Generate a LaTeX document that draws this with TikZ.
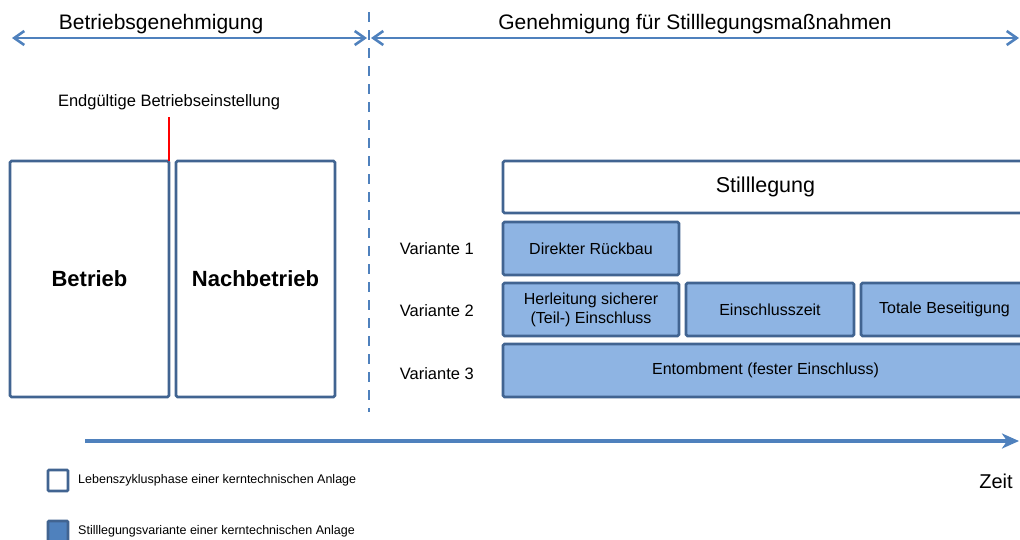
\documentclass[tikz,border=0pt]{standalone}
\usepackage{fontspec}
\setmainfont{Liberation Sans}
\usetikzlibrary{arrows.meta,positioning}
\definecolor{boxblue}{HTML}{416491}
\definecolor{lineblue}{HTML}{4F81BD}
\definecolor{varfill}{HTML}{8EB4E3}
\tikzstyle{phase} = [rectangle, draw=boxblue, line width=2.6pt, rounded corners=1.5pt, outer sep=0pt, inner sep=0pt, minimum width=159pt, minimum height=236pt, font=\fontsize{22}{26}\selectfont\bfseries]
\tikzstyle{decom} = [rectangle, draw=boxblue, line width=2.6pt, rounded corners=1.5pt, outer sep=0pt, inner sep=0pt, minimum width=525pt, minimum height=52pt, font=\fontsize{21.5}{26}\selectfont]
\tikzstyle{variant} = [rectangle, draw=boxblue, fill=varfill, line width=2.6pt, rounded corners=1.5pt, outer sep=0pt, inner sep=0pt, minimum height=53pt, align=center, font=\fontsize{16}{19}\selectfont]
\tikzstyle{varlabel} = [inner sep=0pt, font=\fontsize{16.5}{20}\selectfont]
\tikzstyle{title} = [inner sep=0pt, font=\fontsize{21}{25}\selectfont]
\tikzstyle{legend} = [rectangle, draw=boxblue, line width=2.6pt, rounded corners=1pt, outer sep=0pt, inner sep=0pt, minimum width=20pt, minimum height=21pt]
\tikzstyle{legendtext} = [inner sep=0pt, font=\fontsize{12.5}{15}\selectfont]
\tikzstyle{permit} = [draw=lineblue, line width=2.6pt, {Straight Barb[length=10pt,width=14pt]}-{Straight Barb[length=10pt,width=14pt]}]
\tikzstyle{timeline} = [draw=lineblue, line width=3.6pt, -{Stealth[length=17pt,width=15pt,inset=5pt]}]

\begin{document}
\begin{tikzpicture}[x=1pt,y=-1pt,node distance=7pt]
    \useasboundingbox (0,0) rectangle (1020,539);
    \node [phase] (betrieb) at (89.5,279) {Betrieb};
    \node [phase, right=7pt of betrieb] (nachbetrieb) {Nachbetrieb};
    \coordinate (stop) at (169,117);
    \node [varlabel, above=7pt of stop] (einstellung) {Endgültige Betriebseinstellung};

    \node [decom] (still) at (765.5,187) {Stilllegung};
    \node [variant, minimum width=176pt, below right=9pt and 0pt of still.south west] (direkt) {Direkter Rückbau};
    \node [variant, minimum width=176pt, below=8pt of direkt] (herleitung) {Herleitung sicherer\\(Teil-) Einschluss};
    \node [variant, minimum width=168pt, right=7pt of herleitung] (einschluss) {Einschlusszeit};
    \node [variant, minimum width=167pt, right=7pt of einschluss] (totale) {Totale Beseitigung};
    \node [variant, minimum width=525pt, below right=8pt and 0pt of herleitung.south west] (entomb) {Entombment (fester Einschluss)};
    \node [varlabel, left=29pt of direkt] (var1) {Variante 1};
    \node [varlabel, left=29pt of herleitung, yshift=-1pt] (var2) {Variante 2};
    \node [varlabel, left=29pt of entomb.west, yshift=-3pt] (var3) {Variante 3};

    \coordinate (divtop) at (369,12);
    \coordinate (divbot) at (369,412);
    \coordinate (pl) at (12,38);
    \coordinate (pm) at (367,38);
    \coordinate (ql) at (371,38);
    \coordinate (qr) at (1019,38);
    \coordinate (t0) at (85,441);
    \coordinate (t1) at (1019,441);
    \node [title, font=\fontsize{20}{24}\selectfont] (zeit) at (996,481) {Zeit};

    \node [legend, fill=white] (leg1) at (58,480.5) {};
    \node [legendtext, right=10pt of leg1] (legtext1) {Lebenszyklusphase einer kerntechnischen Anlage};
    \node [legend, fill=lineblue] (leg2) at (58,531.5) {};
    \node [legendtext, right=10pt of leg2] (legtext2) {Stilllegungsvariante einer kerntechnischen Anlage};

     \draw[draw=lineblue, line width=2.6pt, dash pattern=on 10pt off 8pt](divtop) -- (divbot);
     \draw[permit](pl) -- node[title, pos=0.42, above=3pt]{Betriebsgenehmigung}(pm);
     \draw[permit](ql) -- node[title, above=3pt]{Genehmigung für Stilllegungsmaßnahmen}(qr);
     \draw[red, line width=2.2pt](betrieb.north east) -- (stop);
     \draw[timeline](t0) -- (t1);
\end{tikzpicture}
\end{document}
